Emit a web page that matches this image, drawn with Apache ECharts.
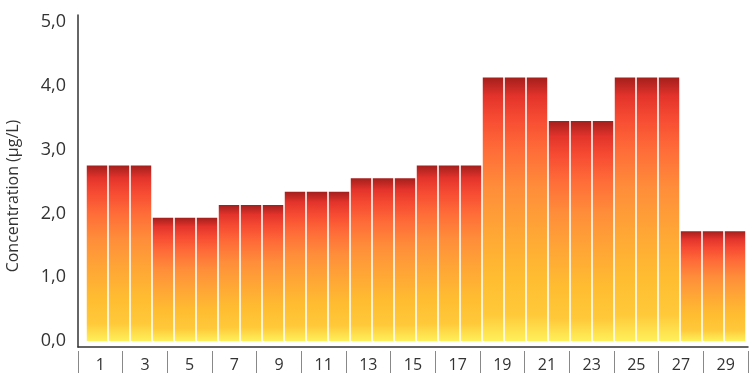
<!DOCTYPE html>
<html><head><meta charset="utf-8">
<script src="https://cdn.jsdelivr.net/npm/echarts@6/dist/echarts.min.js"></script>
<style>html,body{margin:0;padding:0;background:#fff}#c{width:753px;height:380px}</style>
</head><body><div id="c"></div>
<script>
var categories = ['1','2','3','4','5','6','7','8','9','10','11','12','13','14','15','16','17','18','19','20','21','22','23','24','25','26','27','28','29','30'];
var values = [2.75,2.75,2.75,1.93,1.93,1.93,2.13,2.13,2.13,2.34,2.34,2.34,2.55,2.55,2.55,2.75,2.75,2.75,4.13,4.13,4.13,3.45,3.45,3.45,4.13,4.13,4.13,1.72,1.72,1.72];
var xTickLabels = ['1','3','5','7','9','11','13','15','17','19','21','23','25','27','29'];
var yName = 'Concentration (µg/L)';

var font = 'Open Sans';
var grad = {type:'linear',x:0,y:0,x2:0,y2:1,colorStops:[
  {offset:0,color:'#a41f1c'},
  {offset:0.07,color:'#e3332b'},
  {offset:0.15,color:'#f64a32'},
  {offset:0.27,color:'#ff6b38'},
  {offset:0.42,color:'#ff8e3a'},
  {offset:0.58,color:'#ffa536'},
  {offset:0.75,color:'#ffbc31'},
  {offset:0.9,color:'#ffc93a'},
  {offset:1,color:'#fff05a'}]};

var chart = echarts.init(document.getElementById('c'));
chart.setOption({
  animation:false,
  grid:[
    {left:78,right:5,top:15,bottom:33},
    {left:86,right:7,top:22,bottom:39}
  ],
  xAxis:[
    {gridIndex:0,type:'category',data:xTickLabels,boundaryGap:true,
     axisLine:{show:true,lineStyle:{color:'#333',width:1.5}},axisTick:{show:false},axisLabel:{show:false},splitLine:{show:false}},
    {gridIndex:0,type:'category',data:xTickLabels,boundaryGap:true,position:'bottom',offset:4,
     axisLine:{show:false},
     axisTick:{show:true,alignWithLabel:false,length:22,lineStyle:{color:'#888',width:1}},
     axisLabel:{show:true,interval:0,margin:6,color:'#333',fontSize:16,fontFamily:font},splitLine:{show:false}},
    {gridIndex:1,type:'category',data:categories,show:false,boundaryGap:true}
  ],
  yAxis:[
    {gridIndex:0,type:'value',min:0,max:5,axisLine:{show:true,lineStyle:{color:'#333',width:1.5}},axisTick:{show:false},axisLabel:{show:false},splitLine:{show:false}},
    {gridIndex:1,type:'value',min:0,max:5,interval:1,axisLine:{show:false},axisTick:{show:false},splitLine:{show:false},
     axisLabel:{show:true,margin:20,color:'#333',fontSize:18,fontFamily:font,formatter:function(v){return v.toFixed(1).replace('.',',');}}}
  ],
  graphic:[{type:'text',x:13,y:196,rotation:Math.PI/2,style:{text:yName,fill:'#333',font:'16px "Open Sans"',textAlign:'center',textVerticalAlign:'middle'}}],
  series:[{type:'bar',xAxisIndex:2,yAxisIndex:1,data:values,barCategoryGap:'7%',itemStyle:{color:grad}}]
});
</script></body></html>
